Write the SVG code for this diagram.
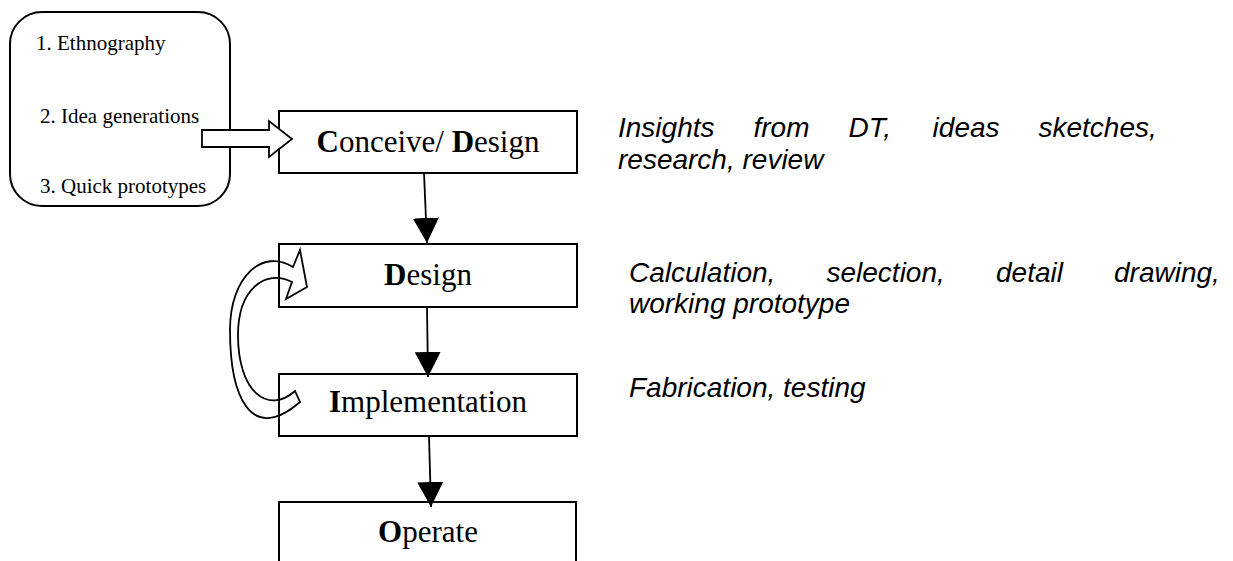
<svg xmlns="http://www.w3.org/2000/svg" width="1233" height="561" viewBox="0 0 1233 561">
<style>
.box{fill:none;stroke:#000;stroke-width:2}
.tnr{font-family:"Liberation Serif","Times New Roman",serif;fill:#000}
.big{font-size:31px}
.small{font-size:21px}
.note{font-family:"Liberation Sans",Arial,sans-serif;font-style:italic;font-size:28px;fill:#000}
.conn{stroke:#000;stroke-width:1.8;fill:none}
.hollow{fill:#fff;stroke:#000;stroke-width:1.8;stroke-linejoin:miter}
</style>
<defs>
<marker id="ah" viewBox="0 0 25 26" refX="25" refY="13" markerWidth="25" markerHeight="26" markerUnits="userSpaceOnUse" orient="auto">
<path d="M0,0 L25,13 L0,26 Z" fill="#000"/>
</marker>
</defs>
<rect width="1233" height="561" fill="#fff"/>

<g id="loop-arrow">
<path class="hollow" d="M295,391 C268,415 238,392 238,335 C238,290 265,268 292,282 L286,299 L307,287 L300,250 L293,267 C263,248 230,276 230,330 C230,395 250,445 300,402 Z"/>
</g>

<g id="dt-steps">
<rect class="box" x="10" y="12" width="220" height="194" rx="32" ry="32"/>
<text class="tnr small" x="36" y="50">1. Ethnography</text>
<text class="tnr small" x="40" y="123">2. Idea generations</text>
<text class="tnr small" x="40" y="193">3. Quick prototypes</text>
</g>

<g id="conceive">
<rect class="box" x="279" y="111" width="298" height="62"/>
<text class="tnr big" x="428" y="152" text-anchor="middle"><tspan font-weight="bold">C</tspan>onceive/ <tspan font-weight="bold">D</tspan>esign</text>
</g>

<g id="design">
<rect class="box" x="279" y="244" width="298" height="63"/>
<text class="tnr big" x="428" y="285" text-anchor="middle"><tspan font-weight="bold">D</tspan>esign</text>
</g>

<g id="implementation">
<rect class="box" x="279" y="374" width="298" height="62"/>
<text class="tnr big" x="428" y="412" text-anchor="middle"><tspan font-weight="bold">I</tspan>mplementation</text>
</g>

<g id="operate">
<rect class="box" x="279" y="502" width="297" height="80"/>
<text class="tnr big" x="428" y="542" text-anchor="middle"><tspan font-weight="bold">O</tspan>perate</text>
</g>

<g id="input-arrow">
<polygon class="hollow" points="202,130 269,130 269,121 292,139 269,157 269,147 202,147"/>
</g>

<g id="connectors">
<line class="conn" x1="424" y1="173" x2="427" y2="243" marker-end="url(#ah)"/>
<line class="conn" x1="427" y1="307" x2="428" y2="377" marker-end="url(#ah)"/>
<line class="conn" x1="429" y1="436" x2="431" y2="507" marker-end="url(#ah)"/>
</g>

<g id="notes">
<text class="note" y="137"><tspan x="618">Insights</tspan><tspan x="753.5">from</tspan><tspan x="848.5">DT,</tspan><tspan x="932.6">ideas</tspan><tspan x="1038.5">sketches,</tspan></text>
<text class="note" x="618" y="169">research, review</text>
<text class="note" y="282"><tspan x="629">Calculation,</tspan><tspan x="826.5">selection,</tspan><tspan x="996">detail</tspan><tspan x="1114">drawing,</tspan></text>
<text class="note" x="629" y="313">working prototype</text>
<text class="note" x="629" y="397">Fabrication, testing</text>
</g>
</svg>
